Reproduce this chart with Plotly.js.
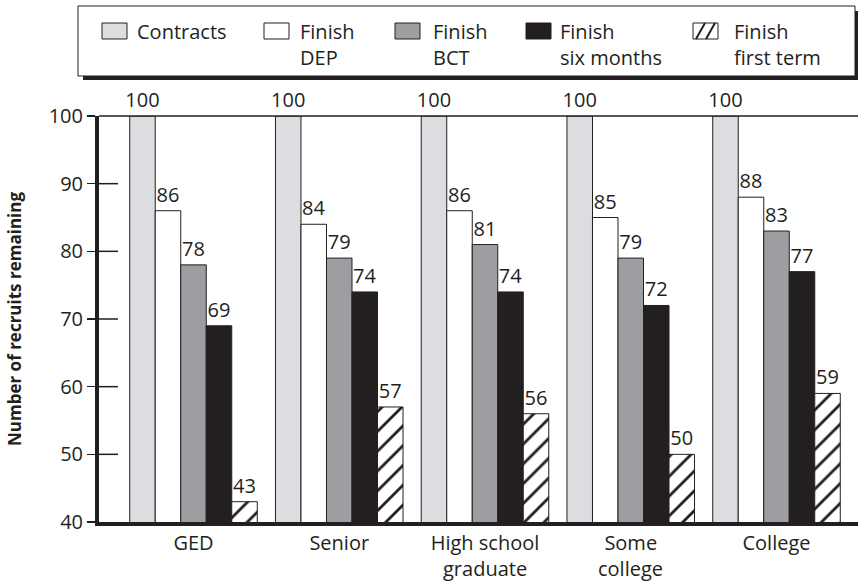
<!DOCTYPE html>
<html>
<head>
<meta charset="utf-8">
<script src="https://cdn.plot.ly/plotly-3.0.1.min.js"></script>
<style>html,body{margin:0;padding:0;background:#fff;}#chart{width:858px;height:582px;}</style>
</head>
<body>
<div id="chart"></div>
<script>
const categories = ['GED', 'Senior', 'High school graduate', 'Some college', 'College'];
const labelLine1 = ['GED', 'Senior', 'High school', 'Some', 'College'];
const labelLine2 = ['', '', 'graduate', 'college', ''];
const seriesNames = ['Contracts', 'Finish<br>DEP', 'Finish<br>BCT', 'Finish<br>six months', 'Finish<br>first term'];
const contracts   = [100, 100, 100, 100, 100];
const finishDEP   = [86, 84, 86, 85, 88];
const finishBCT   = [78, 79, 81, 79, 83];
const finishSix   = [69, 74, 74, 72, 77];
const finishFirst = [43, 57, 56, 50, 59];
const yTicks = [40, 50, 60, 70, 80, 90, 100];

const W = 858, H = 582;
const M = {l: 99, r: 0, t: 116, b: 60};
const PW = W - M.l - M.r, PH = H - M.t - M.b;
const px = x => (x - M.l) / PW;
const py = y => (H - M.b - y) / PH;

const ink = '#231f20';
const FONT = 'Open Sans, Noto Sans, sans-serif';
const fills = ['#dcdde0', '#ffffff', '#9d9ea2', '#231f20', '#ffffff'];
const values = [contracts, finishDEP, finishBCT, finishSix, finishFirst];

const traces = values.map((v, i) => {
  const t = {
    type: 'bar', x: categories, y: v, name: seriesNames[i],
    marker: {color: fills[i], line: {color: ink, width: 1}},
    text: v.map(String), textposition: 'outside', cliponaxis: false,
    constraintext: 'none',
    textfont: {family: FONT, size: 20, color: ink},
    hoverinfo: 'skip'
  };
  if (i === 4) {
    t.marker.pattern = {shape: '/', fgcolor: ink, bgcolor: '#ffffff', size: 14, solidity: 0.2};
  }
  return t;
});

const shapes = [];
const annotations = [];
// thin frame line along the top of the plot
shapes.push({type: 'line', xref: 'paper', yref: 'paper', x0: 0, x1: 1, y0: 1, y1: 1, line: {color: ink, width: 1.5}});
// inner part of the y tick marks (ticks cross the axis line)
yTicks.slice(1, 6).forEach(v => {
  shapes.push({type: 'line', xref: 'paper', yref: 'y', x0: 0, x1: px(118), y0: v, y1: v, line: {color: ink, width: 1.5}});
});
// legend box + shadow
shapes.push({type: 'rect', xref: 'paper', yref: 'paper', x0: px(78), x1: px(855), y0: py(6), y1: py(76), line: {color: ink, width: 1}, fillcolor: 'rgba(0,0,0,0)'});
shapes.push({type: 'rect', xref: 'paper', yref: 'paper', x0: px(83), x1: px(858), y0: py(76), y1: py(80), line: {width: 0}, fillcolor: ink});
shapes.push({type: 'rect', xref: 'paper', yref: 'paper', x0: px(855), x1: px(858), y0: py(11), y1: py(80), line: {width: 0}, fillcolor: ink});

const swatchX = [102, 264, 395, 526, 693];
const textX = [135, 298, 431, 558, 732];
swatchX.forEach((sx, i) => {
  shapes.push({type: 'rect', xref: 'paper', yref: 'paper', x0: px(sx), x1: px(sx + 25), y0: py(23), y1: py(39),
    line: {color: ink, width: 1}, fillcolor: fills[i]});
  annotations.push({xref: 'paper', yref: 'paper', x: px(textX[i]), y: py(16), xanchor: 'left', yanchor: 'top',
    align: 'left', showarrow: false, text: seriesNames[i], font: {family: FONT, size: 20, color: ink}});
});
const hx = swatchX[4];
shapes.push({type: 'path', xref: 'paper', yref: 'paper',
  path: `M ${px(hx + 3)} ${py(39)} L ${px(hx + 12)} ${py(23)} M ${px(hx + 13)} ${py(39)} L ${px(hx + 22)} ${py(23)}`,
  line: {color: ink, width: 2}});

// second line of the two-line category labels
categories.forEach((c, i) => {
  if (labelLine2[i]) {
    annotations.push({xref: 'x', yref: 'paper', x: c, y: py(568), xanchor: 'center', yanchor: 'middle',
      showarrow: false, borderpad: 0, text: labelLine2[i], font: {family: FONT, size: 20, color: ink}});
  }
});

const xr0 = -(193.5 - M.l) / 145.75;
const xRange = [xr0, xr0 + PW / 145.75];

const layout = {
  width: W, height: H,
  margin: M,
  paper_bgcolor: '#fff', plot_bgcolor: '#fff',
  showlegend: false,
  barmode: 'group', bargap: 0.125, bargroupgap: 0,
  font: {family: FONT, color: ink},
  xaxis: {
    type: 'category', range: xRange, tickmode: 'array', tickvals: categories, ticktext: labelLine1,
    showline: true, linecolor: ink, linewidth: 4, ticks: '', showgrid: false, zeroline: false,
    tickfont: {family: FONT, size: 20, color: ink}, ticklabelstandoff: 0
  },
  yaxis: {
    range: [40, 100], tickvals: yTicks, ticktext: yTicks.map(String),
    showline: true, linecolor: ink, linewidth: 4, ticks: 'outside', ticklen: 8, tickwidth: 1.5, tickcolor: ink,
    showgrid: false, zeroline: false,
    tickfont: {family: FONT, size: 20, color: ink},
    title: {text: '<b>Number of recruits remaining</b>', font: {family: FONT, size: 17, color: ink}, standoff: 24}
  },
  shapes: shapes,
  annotations: annotations
};

Plotly.newPlot('chart', traces, layout, {displayModeBar: false, staticPlot: true});
</script>
</body>
</html>
